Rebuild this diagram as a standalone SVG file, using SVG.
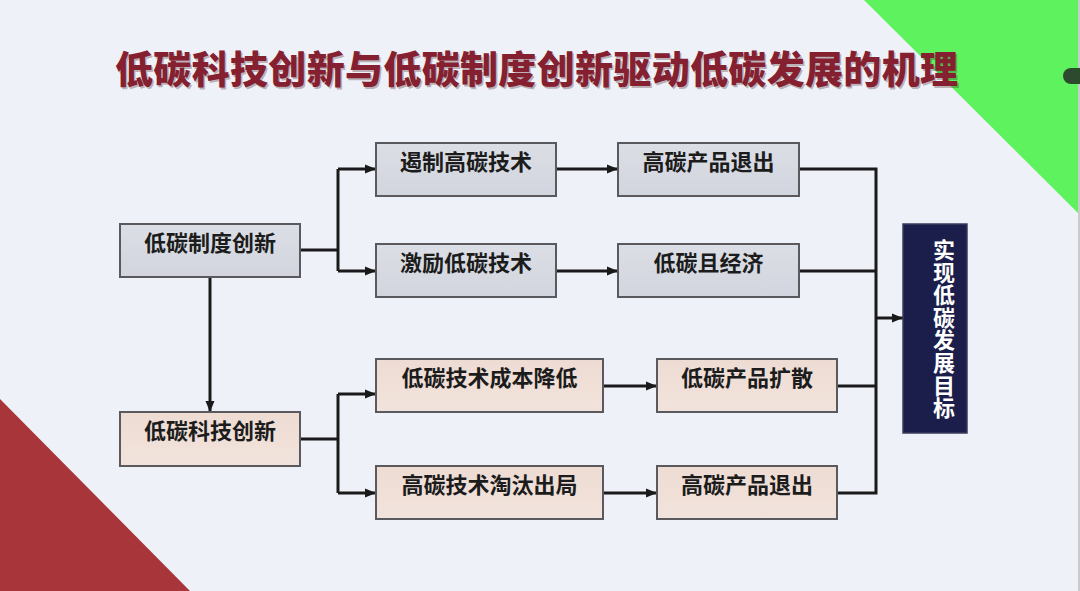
<svg xmlns="http://www.w3.org/2000/svg" width="1080" height="591" viewBox="0 0 1080 591">
<defs>
<linearGradient id="gGrey" x1="0" y1="0" x2="0" y2="1"><stop offset="0" stop-color="#DCDEE6"/><stop offset="1" stop-color="#D2D5DD"/></linearGradient>
<linearGradient id="gPeach" x1="0" y1="0" x2="0" y2="1"><stop offset="0" stop-color="#EEDCD3"/><stop offset="1" stop-color="#F1E3DC"/></linearGradient>
<marker id="arr" markerUnits="userSpaceOnUse" markerWidth="12" markerHeight="12" refX="11" refY="6" orient="auto"><path d="M0,1.5 L11,6 L0,10.5 Z" fill="#1a1a1a"/></marker>
<style>
.box{stroke:#5a5a5e;stroke-width:2}
.grey{fill:url(#gGrey)}
.peach{fill:url(#gPeach)}
.lbl{font-family:"Noto Sans CJK SC","Noto Sans CJK JP",sans-serif;font-weight:bold;font-size:22px;fill:#1c1c1c;text-anchor:middle}
.conn{fill:none;stroke:#1a1a1a;stroke-width:3;stroke-linejoin:miter}
.title{font-family:"Noto Sans CJK SC","Noto Sans CJK JP",sans-serif;font-weight:900;font-size:38px}
.vt{font-family:"Noto Sans CJK SC","Noto Sans CJK JP",sans-serif;font-weight:bold;font-size:22px;fill:#ffffff;writing-mode:vertical-rl;text-anchor:middle;letter-spacing:0.6px}
</style>
</defs>
<rect width="1080" height="591" fill="#EEF1F8"/>
<polygon points="864,0 1078,0 1078,213" fill="#5EF25E"/>
<polygon points="0,399 0,591 190,591" fill="#A8353A"/>
<line x1="1079" y1="0" x2="1079" y2="591" stroke="#C9CAD0" stroke-width="2"/>
<path d="M1080,68 L1071,68 A8,8 0 0 0 1071,84 L1080,84 Z" fill="#2E4A2E"/>
<text class="title" x="116.5" y="84.5" textLength="843" lengthAdjust="spacing" fill="#3a1010" fill-opacity="0.3">低碳科技创新与低碳制度创新驱动低碳发展的机理</text>
<text class="title" x="115" y="83" textLength="843" lengthAdjust="spacing" fill="#84202F">低碳科技创新与低碳制度创新驱动低碳发展的机理</text>
<g id="connectors">
<path class="conn" d="M300,250 L338,250"/>
<path class="conn" d="M338,169 L338,271"/>
<path class="conn" d="M338,169 L376,169" marker-end="url(#arr)"/>
<path class="conn" d="M338,271 L376,271" marker-end="url(#arr)"/>
<path class="conn" d="M556,169 L618,169" marker-end="url(#arr)"/>
<path class="conn" d="M556,271 L618,271" marker-end="url(#arr)"/>
<path class="conn" d="M799,169 L876,169 L876,493 L837,493"/>
<path class="conn" d="M799,271 L876,271"/>
<path class="conn" d="M837,386 L876,386"/>
<path class="conn" d="M876,318 L903,318" marker-end="url(#arr)"/>
<path class="conn" d="M210,277 L210,412" marker-end="url(#arr)"/>
<path class="conn" d="M300,439 L338,439"/>
<path class="conn" d="M338,394 L338,493"/>
<path class="conn" d="M338,394 L376,394" marker-end="url(#arr)"/>
<path class="conn" d="M338,493 L376,493" marker-end="url(#arr)"/>
<path class="conn" d="M603,386 L657,386" marker-end="url(#arr)"/>
<path class="conn" d="M603,493 L657,493" marker-end="url(#arr)"/>
</g>
<g id="n-zhidu"><rect class="box grey" x="120" y="224" width="180" height="53"/><text class="lbl" x="210" y="251">低碳制度创新</text></g>
<g id="n-ezhi"><rect class="box grey" x="376" y="143" width="180" height="53"/><text class="lbl" x="466" y="170">遏制高碳技术</text></g>
<g id="n-jili"><rect class="box grey" x="376" y="244" width="180" height="53"/><text class="lbl" x="466" y="271">激励低碳技术</text></g>
<g id="n-tuichu1"><rect class="box grey" x="618" y="143" width="181" height="53"/><text class="lbl" x="708.5" y="170">高碳产品退出</text></g>
<g id="n-jingji"><rect class="box grey" x="618" y="244" width="181" height="53"/><text class="lbl" x="708.5" y="271">低碳且经济</text></g>
<g id="n-keji"><rect class="box peach" x="120" y="412" width="180" height="54"/><text class="lbl" x="210" y="439">低碳科技创新</text></g>
<g id="n-chengben"><rect class="box peach" x="376" y="359" width="227" height="53"/><text class="lbl" x="489.5" y="386">低碳技术成本降低</text></g>
<g id="n-taotai"><rect class="box peach" x="376" y="466" width="227" height="53"/><text class="lbl" x="489.5" y="493">高碳技术淘汰出局</text></g>
<g id="n-kuosan"><rect class="box peach" x="657" y="359" width="180" height="53"/><text class="lbl" x="747" y="386">低碳产品扩散</text></g>
<g id="n-tuichu2"><rect class="box peach" x="657" y="466" width="180" height="53"/><text class="lbl" x="747" y="493">高碳产品退出</text></g>
<g id="n-goal"><rect x="903" y="224" width="64" height="209" fill="#1B1E4A" stroke="#3a3c5a" stroke-width="1.5"/>
<text class="vt" x="944" y="329">实现低碳发展目标</text></g>
</svg>
